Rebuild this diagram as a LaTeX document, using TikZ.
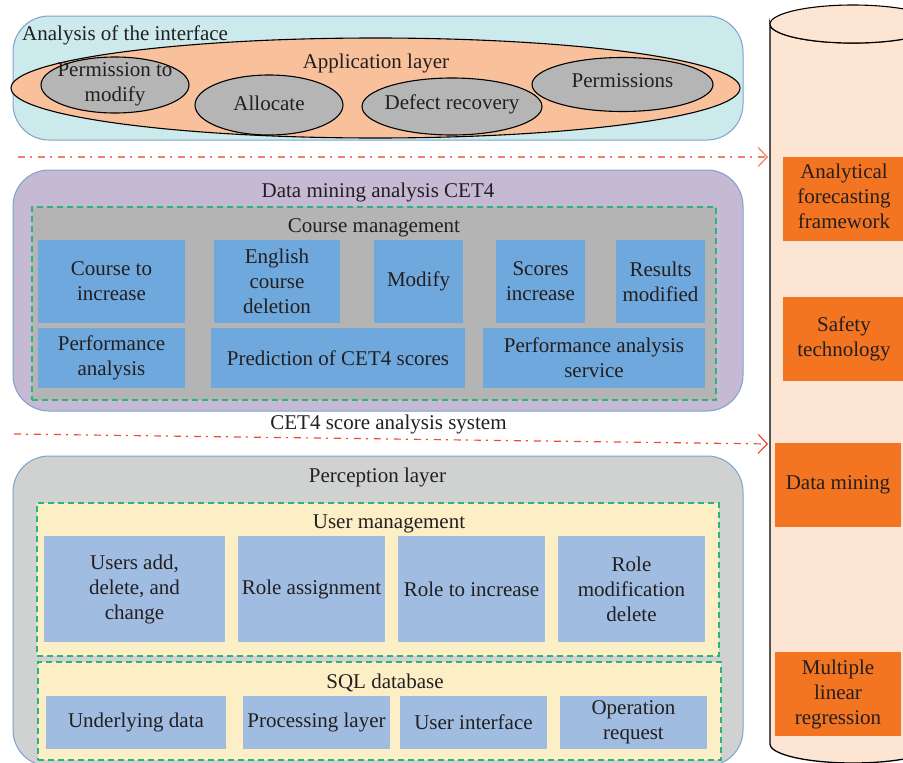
\documentclass[tikz,border=0pt]{standalone}
\usepackage{fontspec}
\setmainfont{Liberation Serif}
\usetikzlibrary{shapes.geometric,arrows.meta}
\definecolor{txtc}{HTML}{231F20}
\definecolor{toppanel}{HTML}{CCE9EC}
\definecolor{midpanel}{HTML}{C5B9D4}
\definecolor{botpanel}{HTML}{D0D2D2}
\definecolor{panelline}{HTML}{7BA3CC}
\definecolor{peach}{HTML}{F9C09C}
\definecolor{ellgray}{HTML}{B5B5B6}
\definecolor{cmgray}{HTML}{B4B4B4}
\definecolor{boxblue}{HTML}{6FA8DC}
\definecolor{boxlight}{HTML}{A0BDE1}
\definecolor{paleyellow}{HTML}{FCEFC6}
\definecolor{greendash}{HTML}{2BB57C}
\definecolor{cylfill}{HTML}{FDE5D4}
\definecolor{orangebox}{HTML}{F37421}
\definecolor{flowA}{HTML}{F0806A}
\definecolor{flowB}{HTML}{EE4B30}
\tikzset{
  base/.style={font=\fontsize{21}{25}\selectfont, text=txtc, align=center, inner sep=0pt},
  title/.style={base, anchor=base},
  bluebox/.style={base, fill=boxblue},
  ltbox/.style={base, fill=boxlight},
  orbox/.style={base, fill=orangebox},
  panel/.style={base, draw=panelline, line width=1pt, rounded corners=36pt},
  gdash/.style={base, draw=greendash, line width=1.1pt, dash pattern=on 6pt off 4pt},
  grayell/.style={ellipse, draw=black, line width=1.1pt, fill=ellgray, inner sep=0pt},
  flow/.style={line width=1.2pt, dash pattern=on 7pt off 5pt on 2pt off 6pt,
    -{Straight Barb[length=9pt,width=19pt]}},
}
\newcommand\mybox[7]{%
  \node[#2, minimum width={(#5-#3)*1pt}, minimum height={(#6-#4)*1pt}]
    (#1) at ({(#3+#5)/2},{(#4+#6)/2}) {#7};}
\begin{document}
\begin{tikzpicture}[x=1pt,y=-1pt]
\clip (0,0) rectangle (903,763);
\fill[white] (0,0) rectangle (903,763);

% ---------- cylinder ----------
\draw[fill=cylfill, line width=1.3pt] (770,24) -- (770,744)
  arc[start angle=180, end angle=0, x radius=83, y radius=19]
  -- (936,24) arc[start angle=0, end angle=180, x radius=83, y radius=19] -- cycle;
\draw[fill=cylfill, line width=1.1pt] (853,24) ellipse[x radius=83, y radius=19];

\mybox{o1}{orbox}{783}{157}{905}{241}{}
\node[base] (o1t) at (844,196) {Analytical\\forecasting\\framework};
\mybox{o2}{orbox}{783}{297}{905}{381}{Safety\\technology}
\mybox{o3}{orbox}{775}{443}{901}{527}{Data mining}
\mybox{o4}{orbox}{775}{652}{901}{736}{Multiple\\linear\\regression}

% ---------- top panel ----------
\mybox{top}{panel, fill=toppanel}{13}{16}{743}{140}{}
\node[title, anchor=base west] (toptitle) at (22,40) {Analysis of the interface};
\node[ellipse, draw=black, line width=1.1pt, fill=peach, inner sep=0pt,
      minimum width=729pt, minimum height=100pt] (app) at (375.5,88) {};
\node[title] (apptitle) at (376,68) {Application layer};
\node[grayell, minimum width=148pt, minimum height=56pt] (e1) at (115,85) {};
\node[base] (e1t) at (115,84) {Permission to\\modify};
\node[grayell, minimum width=148pt, minimum height=60pt] (e2) at (269,105) {};
\node[base] (e2t) at (269,103) {Allocate};
\node[grayell, minimum width=181pt, minimum height=54pt] (e4) at (622.5,84.5) {};
\node[base] (e4t) at (622.5,81) {Permissions};
\node[grayell, minimum width=180pt, minimum height=57pt] (e3) at (452,106.5) {};
\node[base] (e3t) at (452,104) {Defect recovery};

% ---------- flows ----------
\coordinate (f1s) at (18,157);
\coordinate (f1e) at (768,157);
\coordinate (f2s) at (14,434);
\coordinate (f2e) at (768,444);
\draw[flow, draw=flowA] (f1s) -- (f1e);
\draw[flow, draw=flowB] (f2s) -- (f2e);

% ---------- middle panel ----------
\mybox{mid}{panel, fill=midpanel}{13}{170}{743}{411}{}
\node[title] (midtitle) at (378,197) {Data mining analysis CET4};
\mybox{cm}{gdash, fill=cmgray}{32}{207}{716}{400}{}
\node[title] (cmtitle) at (374,232) {Course management};
\mybox{c1}{bluebox}{38}{240}{185}{323}{Course to\\increase}
\mybox{c2}{bluebox}{214}{240}{340}{323}{English\\course\\deletion}
\mybox{c3}{bluebox}{374}{240}{463}{323}{Modify}
\mybox{c4}{bluebox}{496}{240}{585}{323}{Scores\\increase}
\mybox{c5}{bluebox}{616}{240}{705}{323}{Results\\modified}
\mybox{d1}{bluebox}{38}{328}{185}{388}{Performance\\analysis}
\mybox{d2}{bluebox}{211}{328}{465}{388}{Prediction of CET4 scores}
\mybox{d3}{bluebox}{483}{328}{705}{388}{Performance analysis\\service}
\node[title] (systitle) at (388.5,429) {CET4 score analysis system};

% ---------- bottom panel ----------
\mybox{bot}{panel, fill=botpanel}{13}{456}{743}{766}{}
\node[title] (bottitle) at (377.5,482) {Perception layer};
\mybox{um}{gdash, fill=paleyellow}{37}{503}{719}{656}{}
\node[title] (umtitle) at (389,528) {User management};
\mybox{u1}{ltbox}{44}{536}{225}{642}{Users add,\\delete, and\\change}
\mybox{u2}{ltbox}{238}{536}{385}{642}{Role assignment}
\mybox{u3}{ltbox}{398}{536}{545}{642}{Role to increase}
\mybox{u4}{ltbox}{558}{536}{705}{642}{Role\\modification\\delete}
\mybox{sq}{gdash, fill=paleyellow}{38}{662}{721}{760}{}
\node[title] (sqtitle) at (385,688) {SQL database};
\mybox{s1}{ltbox}{46}{696}{226}{749}{Underlying data}
\mybox{s2}{ltbox}{243}{696}{390}{749}{Processing layer}
\mybox{s3}{ltbox}{400}{696}{547}{749}{User interface}
\mybox{s4}{ltbox}{560}{696}{707}{749}{Operation\\request}
\end{tikzpicture}
\end{document}
